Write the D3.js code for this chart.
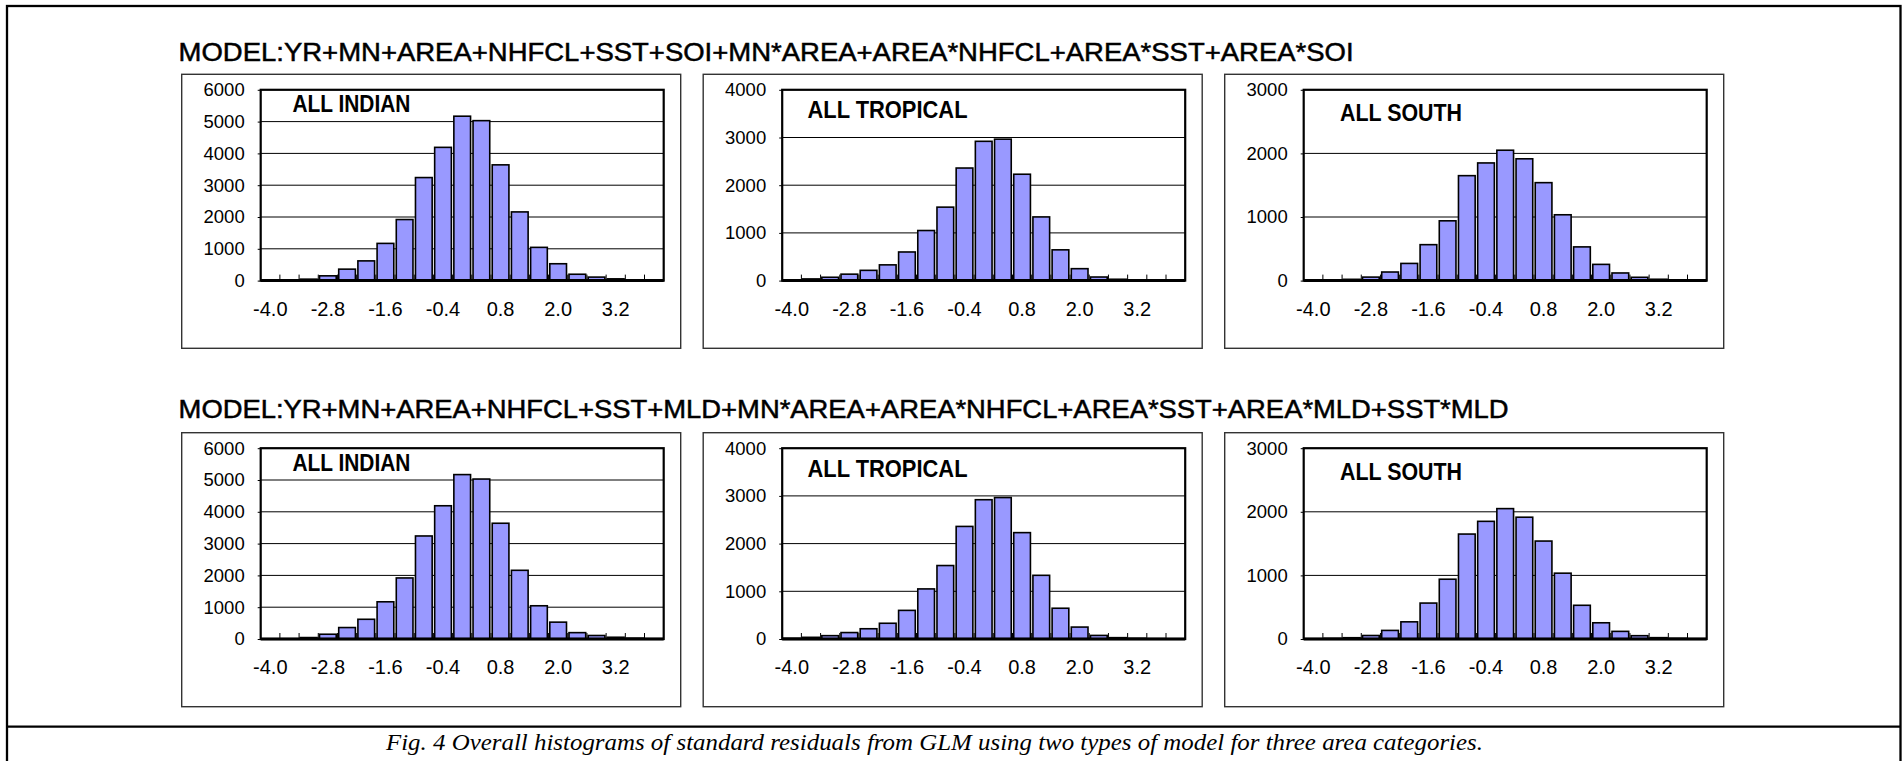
<!DOCTYPE html>
<html>
<head>
<meta charset="utf-8">
<script src="https://cdn.jsdelivr.net/npm/d3@7/dist/d3.min.js"></script>
<style>
  body { margin: 0; background: #fff; }
  text { font-family: "Liberation Sans", Arial, sans-serif; }
</style>
</head>
<body>
<script>
// residual bins (class marks) and labelled ticks
var bins = ["-4.0", "-3.6", "-3.2", "-2.8", "-2.4", "-2.0", "-1.6", "-1.2", "-0.8", "-0.4",
            "0.0", "0.4", "0.8", "1.2", "1.6", "2.0", "2.4", "2.8", "3.2", "3.6", "4.0"];
var xLabels = ["-4.0", "-2.8", "-1.6", "-0.4", "0.8", "2.0", "3.2"];

var areaNames = ["ALL INDIAN", "ALL TROPICAL", "ALL SOUTH"];
var yMaxes = [6000, 4000, 3000];
var yTicks = [[0, 1000, 2000, 3000, 4000, 5000, 6000],
              [0, 1000, 2000, 3000, 4000],
              [0, 1000, 2000, 3000]];

var indianCounts   = [3, 8, 45, 150, 360, 620, 1170, 1920, 3240, 4190, 5170, 5030, 3640, 2160, 1045, 530, 200, 110, 55, 25, 10];
var tropicalCounts = [15, 35, 70, 135, 215, 330, 600, 1050, 1540, 2360, 2920, 2965, 2230, 1335, 645, 250, 75, 28, 14, 7, 4];
var southCounts    = [5, 10, 20, 55, 135, 270, 565, 940, 1650, 1850, 2050, 1915, 1540, 1035, 530, 255, 120, 52, 21, 10, 5];

var modelTitles = [
  "MODEL:YR+MN+AREA+NHFCL+SST+SOI+MN*AREA+AREA*NHFCL+AREA*SST+AREA*SOI",
  "MODEL:YR+MN+AREA+NHFCL+SST+MLD+MN*AREA+AREA*NHFCL+AREA*SST+AREA*MLD+SST*MLD"
];
var caption = "Fig. 4 Overall histograms of standard residuals from GLM using two types of model for three area categories.";

var width = 1903,
    height = 761;

var svg = d3.select("body").append("svg")
    .attr("width", width)
    .attr("height", height)
    .style("display", "block");

// outer box + caption divider
svg.append("rect")
    .attr("x", 7).attr("y", 6)
    .attr("width", 1893.5).attr("height", 770)
    .attr("fill", "none").attr("stroke", "#000").attr("stroke-width", 2.3);
svg.append("line")
    .attr("x1", 7).attr("x2", 1900.5)
    .attr("y1", 726.7).attr("y2", 726.7)
    .attr("stroke", "#000").attr("stroke-width", 2.3);

svg.append("text")
    .attr("x", 386).attr("y", 750)
    .attr("textLength", 1097).attr("lengthAdjust", "spacingAndGlyphs")
    .style("font-family", "'Liberation Serif', 'Times New Roman', serif")
    .style("font-style", "italic")
    .style("font-size", "24px")
    .text(caption);

var frameX = [181.7, 703.2, 1224.7],
    rowTop = [74.3, 432.7],
    titleBase = [61, 418.3],
    titleLen = [1175, 1330],
    frameW = 499,
    frameH = 274;

var counts = [indianCounts, tropicalCounts, southCounts];
var nameDx = [110.7, 104.3, 115.3],
    nameDy = [38, 44, 47],
    nameLen = [118, 160, 122];

modelTitles.forEach(function(t, r) {
    svg.append("text")
        .attr("x", 178.6).attr("y", titleBase[r])
        .attr("textLength", titleLen[r]).attr("lengthAdjust", "spacingAndGlyphs")
        .style("font-size", "25.5px")
        .attr("stroke", "#000").attr("stroke-width", 0.5)
        .text(t);

    for (var p = 0; p < 3; p++) {
        drawPanel(frameX[p], rowTop[r], p);
    }
});

function drawPanel(fx, fy, p) {
    var g = svg.append("g").attr("transform", "translate(" + fx + "," + fy + ")");

    g.append("rect")
        .attr("width", frameW).attr("height", frameH)
        .attr("fill", "#fff").attr("stroke", "#333").attr("stroke-width", 1.4);

    var left = 79, right = 482, top = 15.5, bottom = 206.3;

    var x = d3.scaleBand()
        .domain(bins)
        .range([left, right])
        .paddingInner(0.13)
        .paddingOuter(0.065);

    var y = d3.scaleLinear()
        .domain([0, yMaxes[p]])
        .range([bottom, top]);

    // gridlines
    g.selectAll(".grid")
        .data(yTicks[p].slice(1, -1))
        .enter().append("line")
        .attr("x1", left).attr("x2", right)
        .attr("y1", function(d) { return y(d); })
        .attr("y2", function(d) { return y(d); })
        .attr("stroke", "#000").attr("stroke-width", 1);

    // bars
    g.selectAll(".bar")
        .data(counts[p])
        .enter().append("rect")
        .attr("x", function(d, i) { return x(bins[i]); })
        .attr("width", x.bandwidth())
        .attr("y", function(d) { return y(d); })
        .attr("height", function(d) { return bottom - y(d); })
        .attr("fill", "#9999ff")
        .attr("stroke", "#000")
        .attr("stroke-width", 1.6);

    // tick marks between categories, pointing inwards
    var step = x.step();
    g.selectAll(".xtick")
        .data(d3.range(1, bins.length))
        .enter().append("line")
        .attr("x1", function(i) { return left + i * step; })
        .attr("x2", function(i) { return left + i * step; })
        .attr("y1", bottom).attr("y2", bottom - 6)
        .attr("stroke", "#000").attr("stroke-width", 1);

    // plot frame
    g.append("rect")
        .attr("x", left).attr("y", top)
        .attr("width", right - left).attr("height", bottom - top)
        .attr("fill", "none").attr("stroke", "#000").attr("stroke-width", 2.2);
    g.append("line")
        .attr("x1", left).attr("x2", right)
        .attr("y1", bottom).attr("y2", bottom)
        .attr("stroke", "#000").attr("stroke-width", 3);

    // y axis
    var yAxis = d3.axisLeft(y)
        .tickValues(yTicks[p])
        .tickSize(3)
        .tickPadding(13)
        .tickFormat(d3.format("d"));
    var ya = g.append("g")
        .attr("transform", "translate(" + left + ",0)")
        .call(yAxis);
    ya.select(".domain").remove();
    ya.selectAll("text")
        .style("font-family", "'Liberation Sans', Arial, sans-serif")
        .style("font-size", "18.5px")
        .attr("fill", "#000");

    // x axis labels
    var xAxis = d3.axisBottom(x)
        .tickValues(xLabels)
        .tickSize(0)
        .tickPadding(21);
    var xa = g.append("g")
        .attr("transform", "translate(0," + bottom + ")")
        .call(xAxis);
    xa.select(".domain").remove();
    xa.selectAll("text")
        .style("font-family", "'Liberation Sans', Arial, sans-serif")
        .style("font-size", "20px")
        .attr("fill", "#000");

    g.append("text")
        .attr("x", nameDx[p]).attr("y", nameDy[p])
        .attr("textLength", nameLen[p]).attr("lengthAdjust", "spacingAndGlyphs")
        .style("font-size", "23px")
        .style("font-weight", "bold")
        .text(areaNames[p]);
}
</script>
</body>
</html>
